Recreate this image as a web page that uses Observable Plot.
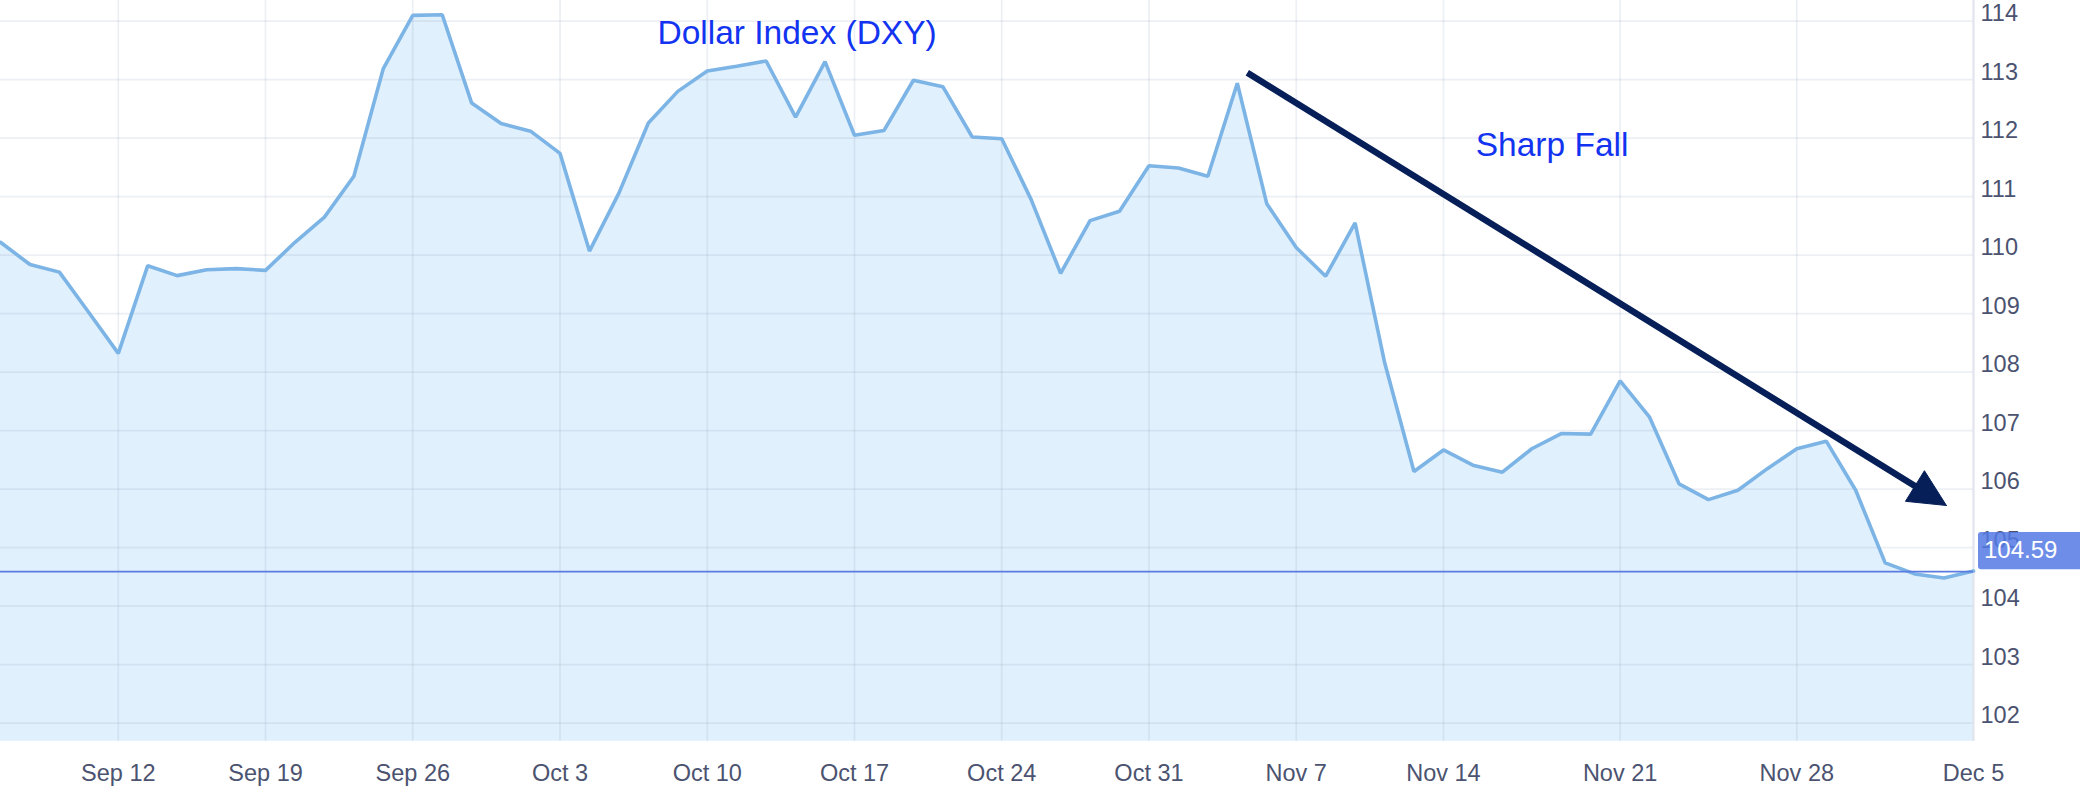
<!DOCTYPE html>
<html>
<head>
<meta charset="utf-8">
<script src="https://cdn.jsdelivr.net/npm/d3@7"></script>
<script src="https://cdn.jsdelivr.net/npm/@observablehq/plot@0.6"></script>
<style>
  html, body { margin: 0; padding: 0; background: #ffffff; }
  #chart svg { display: block; }
</style>
</head>
<body>
<div id="chart"></div>
<script>
// ---- Data ----
const dxyValues = [
  110.22, 109.84, 109.71, 109.02, 108.32, 109.82, 109.65, 109.75, 109.77, 109.74,
  110.22, 110.65, 111.35, 113.19, 114.10, 114.11, 112.60, 112.25, 112.12, 111.74,
  110.07, 111.06, 112.26, 112.80, 113.15, 113.23, 113.32, 112.36, 113.31, 112.05,
  112.13, 112.99, 112.88, 112.02, 111.99, 110.95, 109.69, 110.59, 110.75, 111.53,
  111.49, 111.35, 112.94, 110.88, 110.13, 109.64, 110.55, 108.17, 106.30, 106.67,
  106.41, 106.29, 106.69, 106.95, 106.94, 107.85, 107.23, 106.09, 105.82, 105.98,
  106.35, 106.69, 106.82, 105.98, 104.74, 104.55, 104.48, 104.60
];
const xTickIndex = [4, 9, 14, 19, 24, 29, 34, 39, 44, 49, 55, 61, 67];
const xTickLabels = ["Sep 12", "Sep 19", "Sep 26", "Oct 3", "Oct 10", "Oct 17", "Oct 24",
                     "Oct 31", "Nov 7", "Nov 14", "Nov 21", "Nov 28", "Dec 5"];
const yTicks = [102, 103, 104, 105, 106, 107, 108, 109, 110, 111, 112, 113, 114];
const yTickLabels = ["102", "103", "104", "105", "106", "107", "108", "109", "110", "111", "112", "113", "114"];
const lastValue = 104.59;

const annotationLabels = ["Dollar Index (DXY)", "Sharp Fall"];
const annotationIndex = [27.05, 52.69];
const annotationValue = [113.61, 111.70];

const arrowStart = [42.34, 113.12]; // [index, value]
const arrowEnd = [66.08, 105.72];   // [index, value]

// ---- Layout ----
const W = 2080, H = 800;
const mL = 0, mR = 107, mT = 0, mB = 59.3;
const yMin = 101.69, yMax = 114.354;
const xMax = dxyValues.length - 1;

const series = dxyValues.map((v, i) => ({i, v}));

// pixel helpers (same linear mapping as the Plot scales) used only to shape the arrow head
const sx = i => mL + i / xMax * (W - mL - mR);
const sy = v => mT + (yMax - v) / (yMax - yMin) * (H - mT - mB);
const ix = x => (x - mL) / (W - mL - mR) * xMax;
const iv = y => yMax - (y - mT) / (H - mT - mB) * (yMax - yMin);

const P0 = [sx(arrowStart[0]), sy(arrowStart[1])];
const P1 = [sx(arrowEnd[0]), sy(arrowEnd[1])];
const ang = Math.atan2(P1[1] - P0[1], P1[0] - P0[0]);
const ux = Math.cos(ang), uy = Math.sin(ang);
const nx = -uy, ny = ux;
const headLen = 37, headHalf = 18;
const B = [P1[0] - headLen * ux, P1[1] - headLen * uy];
const headPts = [
  [P1[0], P1[1]],
  [B[0] + headHalf * nx, B[1] + headHalf * ny],
  [B[0] - headHalf * nx, B[1] - headHalf * ny],
  [P1[0], P1[1]]
].map(([x, y]) => ({i: ix(x), v: iv(y)}));
const shaftEnd = [P1[0] - (headLen - 8) * ux, P1[1] - (headLen - 8) * uy];
const shaft = [{x1: arrowStart[0], y1: arrowStart[1], x2: ix(shaftEnd[0]), y2: iv(shaftEnd[1])}];

const annotations = annotationLabels.map((t, k) => ({t, i: annotationIndex[k], v: annotationValue[k]}));

const navy = "#071f58";
const tickColor = "#4b5370";

const chart = Plot.plot({
  width: W,
  height: H,
  marginLeft: mL,
  marginRight: mR,
  marginTop: mT,
  marginBottom: mB,
  style: {
    fontFamily: "'Liberation Sans', Arial, Helvetica, sans-serif",
    fontSize: "23px",
    background: "#ffffff",
    overflow: "visible"
  },
  x: {domain: [0, xMax]},
  y: {domain: [yMin, yMax]},
  marks: [
    Plot.areaY(series, {x: "i", y1: yMin, y2: "v", fill: "#e0f0fd"}),
    Plot.gridY(yTicks, {stroke: "#8a9bb5", strokeOpacity: 0.16, strokeWidth: 1.7}),
    Plot.gridX(xTickIndex, {stroke: "#8a9bb5", strokeOpacity: 0.16, strokeWidth: 1.7}),
    Plot.ruleX([xMax], {stroke: "#e2e5ed", strokeWidth: 2}),
    Plot.line(series, {x: "i", y: "v", stroke: "#7cb4e6", strokeWidth: 3.6, strokeLinejoin: "miter"}),
    Plot.ruleY([lastValue], {x1: 0, x2: xMax, stroke: "#5b7be0", strokeWidth: 1.6}),
    Plot.axisX(xTickIndex, {
      tickSize: 0, tickPadding: 23,
      tickFormat: d => xTickLabels[xTickIndex.indexOf(d)],
      fill: tickColor, fontSize: 23.5
    }),
    Plot.axisY(yTicks, {
      anchor: "right", tickSize: 0, tickPadding: 7, dy: -7.4,
      tickFormat: d => yTickLabels[yTicks.indexOf(d)],
      fill: tickColor, fontSize: 23.5
    }),
    Plot.rect([{y1: lastValue + 0.03, y2: lastValue + 0.67}], {
      x1: xMax, x2: xMax, y1: "y1", y2: "y2",
      insetLeft: 5, insetRight: -110, fill: "#5479e4", fillOpacity: 0.85, rx: 3
    }),
    Plot.text([lastValue], {
      x: xMax, y: d => d, text: d => d.toFixed(2),
      textAnchor: "start", dx: 10.5, dy: -21.4, fill: "#ffffff", fontSize: 24
    }),
    Plot.text(annotations, {
      x: "i", y: "v", text: "t", lineAnchor: "bottom", textAnchor: "middle",
      fill: "#1233f0", fontSize: 33.5
    }),
    Plot.link(shaft, {x1: "x1", y1: "y1", x2: "x2", y2: "y2", stroke: navy, strokeWidth: 6.5}),
    Plot.line(headPts, {x: "i", y: "v", fill: navy, stroke: navy, strokeWidth: 1, strokeLinejoin: "miter"})
  ]
});

document.getElementById("chart").appendChild(chart);
</script>
</body>
</html>
